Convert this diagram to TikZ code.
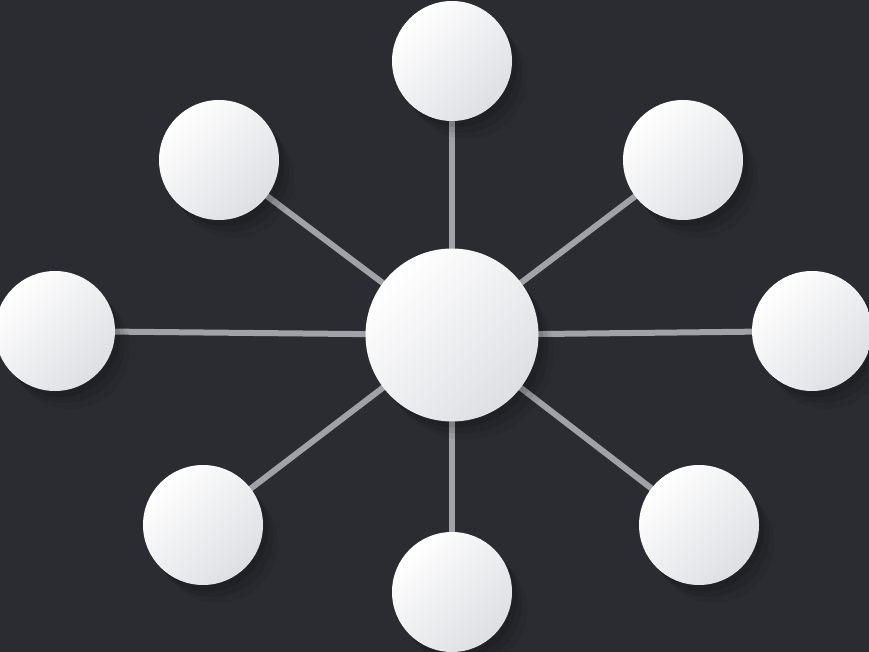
\documentclass[tikz,border=0pt]{standalone}
\usepackage{tikz}
\usetikzlibrary{shadows}

\definecolor{bgdark}{RGB}{42,44,49}
\definecolor{spoke}{RGB}{160,162,168}
\definecolor{ballshade}{RGB}{222,223,227}

\pgfdeclarelayer{bg}
\pgfdeclarelayer{edges}
\pgfsetlayers{bg,edges,main}

\begin{document}
\begin{tikzpicture}[
    x=1pt, y=-1pt,
    ball/.style={circle, inner sep=0pt,
        top color=white, bottom color=ballshade, shading angle=45,
        drop shadow={shadow xshift=5pt, shadow yshift=-6pt, opacity=0.10, fill=black},
        drop shadow={shadow xshift=10pt, shadow yshift=-12pt, opacity=0.08, fill=black},
        drop shadow={shadow xshift=15pt, shadow yshift=-18pt, opacity=0.06, fill=black}},
    hubstyle/.style={ball, minimum size=173pt},
    leaf/.style={ball, minimum size=120pt},
    spokestyle/.style={draw=spoke, line width=6pt}
]
\begin{pgfonlayer}{bg}
\fill[bgdark] (0,0) rectangle (869,652);
\end{pgfonlayer}
\useasboundingbox (0,0) rectangle (869,652);

\node (Hub) [hubstyle] at (452,335) {};
\foreach \name/\px/\py in {Top/452/61, TopLeft/219/160, TopRight/683/160,
    Left/55/331, Right/812/331, BottomLeft/203/525, BottomRight/699/525,
    Bottom/452/592}
  \node (\name) [leaf] at (\px,\py) {};

% spokes go under the balls
\begin{pgfonlayer}{edges}
\foreach \name in {Top,TopLeft,TopRight,Left,Right,BottomLeft,BottomRight,Bottom}
  \draw[spokestyle] (Hub.center) -- (\name.center);
\end{pgfonlayer}
\end{tikzpicture}
\end{document}
